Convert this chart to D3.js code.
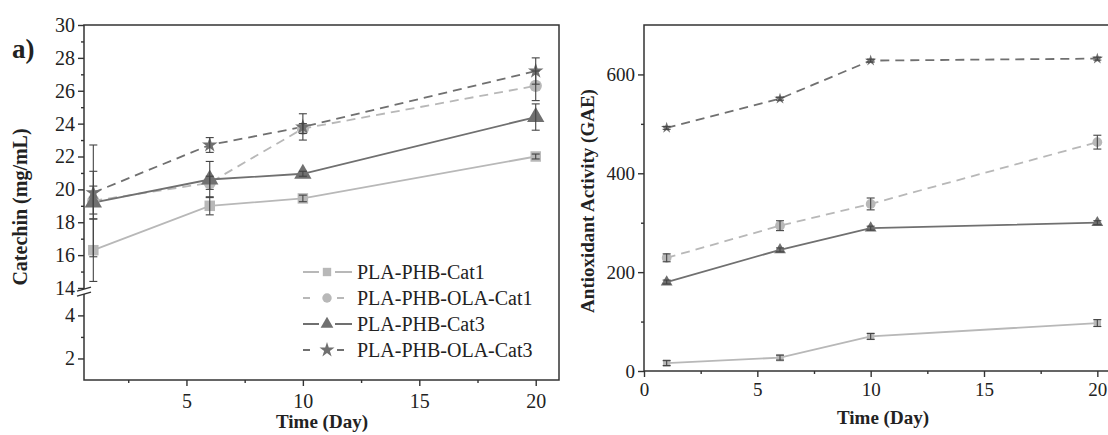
<!DOCTYPE html>
<html>
<head>
<meta charset="utf-8">
<script src="https://cdn.jsdelivr.net/npm/d3@7"></script>
<style>
  body { margin: 0; background: #fff; }
  svg { font-family: "Liberation Serif", "Times New Roman", serif; }
  .axis path, .axis line { stroke: #333; stroke-width: 1.4; }
  .axis text { font-size: 19px; fill: #222; font-family: "Liberation Serif", serif; }
  .axisA text { font-size: 20px; }
  .title { font-size: 19px; font-weight: bold; fill: #222; }
</style>
</head>
<body>
<svg width="1108" height="435"></svg>
<script>
const days = [1, 6, 10, 20];
const seriesNames = ['PLA-PHB-Cat1', 'PLA-PHB-OLA-Cat1', 'PLA-PHB-Cat3', 'PLA-PHB-OLA-Cat3'];

// catechin release (mg/mL)
const catCat1 = [16.3, 19.0, 19.45, 22.0];
const catOlaCat1 = [19.3, 20.4, 23.7, 26.3];
const catCat3 = [19.2, 20.6, 20.95, 24.4];
const catOlaCat3 = [19.8, 22.7, 23.8, 27.2];
const catErrCat1 = [1.9, 0.55, 0.2, 0.15];
const catErrOlaCat1 = [3.4, 0.4, 0.3, 0.9];
const catErrCat3 = [1.0, 1.1, 0.15, 0.8];
const catErrOlaCat3 = [1.3, 0.45, 0.8, 0.8];

// antioxidant activity (GAE)
const aoCat1 = [16, 27, 70, 97];
const aoOlaCat1 = [229, 294, 338, 463];
const aoCat3 = [180, 245, 289, 300];
const aoOlaCat3 = [492, 551, 628, 632];
const aoErrCat1 = [5, 5, 6, 7];
const aoErrOlaCat1 = [8, 10, 12, 14];
const aoErrCat3 = [4, 4, 4, 4];
const aoErrOlaCat3 = [3, 3, 3, 3];

const upperTicks = [14, 16, 18, 20, 22, 24, 26, 28, 30];
const lowerTicks = [2, 4];
const dayTicksA = [5, 10, 15, 20];
const dayTicksB = [0, 5, 10, 15, 20];
const aoTicks = [0, 200, 400, 600];

const light = '#b8b8b8';
const dark = '#707070';
const styles = [
  { color: light, dash: null, symbol: d3.symbolSquare },
  { color: light, dash: '9,6', symbol: d3.symbolCircle },
  { color: dark, dash: null, symbol: d3.symbolTriangle },
  { color: dark, dash: '9,6', symbol: d3.symbolStar },
];

const svg = d3.select('svg');

function build(values, errs) {
  return values.map((v, i) => ({
    name: seriesNames[i],
    style: styles[i],
    points: days.map((d, j) => ({ day: d, value: v[j], err: errs[i][j] })),
  }));
}

function drawSeries(g, series, x, y, symSizes) {
  const line = d3.line().x(d => x(d.day)).y(d => y(d.value));
  series.forEach(s => {
    g.append('path')
      .attr('d', line(s.points))
      .attr('fill', 'none')
      .attr('stroke', s.style.color)
      .attr('stroke-width', 1.8)
      .attr('stroke-dasharray', s.style.dash);
  });
  series.forEach((s, i) => {
    g.selectAll(null)
      .data(s.points)
      .join('path')
      .attr('transform', d => `translate(${x(d.day)},${y(d.value)})`)
      .attr('d', d3.symbol().type(s.style.symbol).size(symSizes[i]))
      .attr('fill', s.style.color);
  });
  // error bars on top
  series.forEach(s => {
    s.points.forEach(p => {
      const cx = x(p.day);
      const y0 = y(p.value - p.err);
      const y1 = y(p.value + p.err);
      g.append('line').attr('x1', cx).attr('x2', cx).attr('y1', y0).attr('y2', y1)
        .attr('stroke', '#444').attr('stroke-width', 1.1);
      [y0, y1].forEach(yy => {
        g.append('line').attr('x1', cx - 4).attr('x2', cx + 4).attr('y1', yy).attr('y2', yy)
          .attr('stroke', '#444').attr('stroke-width', 1.1);
      });
    });
  });
}

// ---------- panel a ----------
const xA = d3.scaleLinear().domain([0.6, 21]).range([84, 559]);
const yUp = d3.scaleLinear().domain([14, 30]).range([288, 25]);
const yLow = d3.scaleLinear().domain([1, 4.9]).range([380, 296]);

const gA = svg.append('g');

gA.append('g').attr('class', 'axis axisA')
  .attr('transform', 'translate(84,0)')
  .call(d3.axisLeft(yUp).tickValues(upperTicks).tickSize(6).tickPadding(3))
  .call(g => g.select('.domain').remove());
gA.append('g').attr('class', 'axis')
  .attr('transform', 'translate(84,0)')
  .call(d3.axisLeft(yUp).tickValues(d3.range(15, 30, 2)).tickSize(3).tickFormat(''))
  .call(g => g.select('.domain').remove());
gA.append('g').attr('class', 'axis axisA')
  .attr('transform', 'translate(84,0)')
  .call(d3.axisLeft(yLow).tickValues(lowerTicks).tickSize(6).tickPadding(3).tickFormat(d3.format('d')))
  .call(g => g.select('.domain').remove());
gA.append('g').attr('class', 'axis')
  .attr('transform', 'translate(84,0)')
  .call(d3.axisLeft(yLow).tickValues([3]).tickSize(3).tickFormat(''))
  .call(g => g.select('.domain').remove());

gA.append('g').attr('class', 'axis axisA')
  .attr('transform', 'translate(0,380)')
  .call(d3.axisBottom(xA).tickValues(dayTicksA).tickSize(6).tickPadding(8))
  .call(g => g.select('.domain').remove());
gA.append('g').attr('class', 'axis')
  .attr('transform', 'translate(0,380)')
  .call(d3.axisBottom(xA).tickValues([2.5, 7.5, 12.5, 17.5]).tickSize(3).tickFormat(''))
  .call(g => g.select('.domain').remove());

// frame
gA.append('rect').attr('x', 84).attr('y', 25).attr('width', 475).attr('height', 355)
  .attr('fill', 'none').attr('stroke', '#333').attr('stroke-width', 1.5);

// axis break marks
gA.append('rect').attr('x', 80).attr('y', 289).attr('width', 8).attr('height', 5).attr('fill', '#fff');
[289, 294].forEach(yy => {
  gA.append('line').attr('x1', 77).attr('x2', 91).attr('y1', yy + 2).attr('y2', yy - 2)
    .attr('stroke', '#333').attr('stroke-width', 1.3);
});

const catSeries = build([catCat1, catOlaCat1, catCat3, catOlaCat3],
  [catErrCat1, catErrOlaCat1, catErrCat3, catErrOlaCat3]);
drawSeries(gA, catSeries, xA, yUp, [110, 120, 130, 75]);

gA.append('text').attr('class', 'title')
  .attr('transform', 'translate(27,207) rotate(-90)')
  .attr('text-anchor', 'middle').style('font-size', '20px').text('Catechin (mg/mL)');
gA.append('text').attr('class', 'title')
  .attr('x', 322).attr('y', 428).attr('text-anchor', 'middle').text('Time (Day)');
gA.append('text').attr('x', 12).attr('y', 58)
  .style('font-size', '27px').style('font-weight', 'bold').attr('fill', '#222').text('a)');

// legend
const legend = gA.append('g');
catSeries.forEach((s, i) => {
  const yy = 272 + i * 26;
  legend.append('line').attr('x1', 303).attr('x2', 352).attr('y1', yy).attr('y2', yy)
    .attr('stroke', s.style.color).attr('stroke-width', 1.8)
    .attr('stroke-dasharray', s.style.dash ? '7,10' : null);
  legend.append('rect').attr('x', 319).attr('y', yy - 6).attr('width', 16).attr('height', 12).attr('fill', '#fff');
  legend.append('path').attr('transform', `translate(327,${yy})`)
    .attr('d', d3.symbol().type(s.style.symbol).size(70)).attr('fill', s.style.color);
  legend.append('text').attr('x', 357).attr('y', yy + 7)
    .style('font-size', '20px').attr('fill', '#222').text(s.name);
});

// ---------- panel b ----------
const xB = d3.scaleLinear().domain([0, 21]).range([644, 1120]);
const yB = d3.scaleLinear().domain([0, 700]).range([371, 25]);
const gB = svg.append('g');

gB.append('g').attr('class', 'axis')
  .attr('transform', 'translate(644,0)')
  .call(d3.axisLeft(yB).tickValues(aoTicks).tickSize(6).tickPadding(3))
  .call(g => g.select('.domain').remove());
gB.append('g').attr('class', 'axis')
  .attr('transform', 'translate(644,0)')
  .call(d3.axisLeft(yB).tickValues([100, 300, 500]).tickSize(3).tickFormat(''))
  .call(g => g.select('.domain').remove());
gB.append('g').attr('class', 'axis')
  .attr('transform', 'translate(0,371)')
  .call(d3.axisBottom(xB).tickValues(dayTicksB).tickSize(6).tickPadding(6))
  .call(g => g.select('.domain').remove());
gB.append('g').attr('class', 'axis')
  .attr('transform', 'translate(0,371)')
  .call(d3.axisBottom(xB).tickValues([2.5, 7.5, 12.5, 17.5]).tickSize(3).tickFormat(''))
  .call(g => g.select('.domain').remove());

gB.append('rect').attr('x', 644).attr('y', 25).attr('width', 476).attr('height', 346)
  .attr('fill', 'none').attr('stroke', '#333').attr('stroke-width', 1.5);

const aoSeries = build([aoCat1, aoOlaCat1, aoCat3, aoOlaCat3],
  [aoErrCat1, aoErrOlaCat1, aoErrCat3, aoErrOlaCat3]);
drawSeries(gB, aoSeries, xB, yB, [55, 75, 60, 40]);

gB.append('text').attr('class', 'title')
  .attr('transform', 'translate(594,201) rotate(-90)')
  .attr('text-anchor', 'middle').text('Antioxidant Activity (GAE)');
gB.append('text').attr('class', 'title')
  .attr('x', 883).attr('y', 424).attr('text-anchor', 'middle').text('Time (Day)');
</script>
</body>
</html>
